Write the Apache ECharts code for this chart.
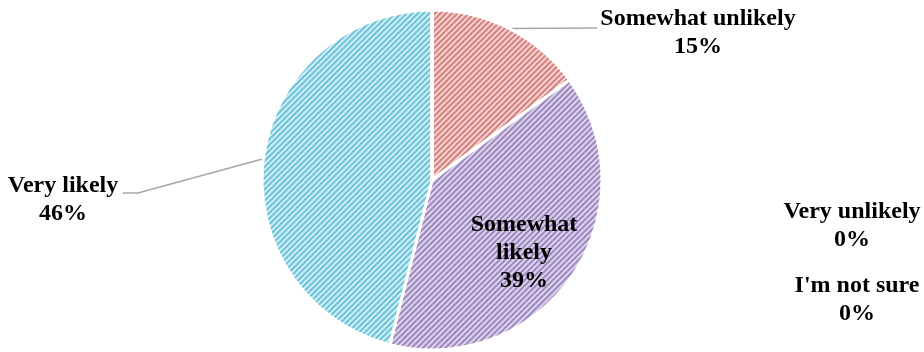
<!DOCTYPE html>
<html>
<head>
<meta charset="utf-8">
<script src="https://cdn.jsdelivr.net/npm/echarts@6/dist/echarts.min.js"></script>
<style>
  html, body { margin: 0; padding: 0; background: #fff; }
  #chart { width: 924px; height: 352px; }
</style>
</head>
<body>
<div id="chart"></div>
<script>
// survey answers, clockwise from 12 o'clock
const categories = ['Very unlikely', 'Somewhat unlikely', 'Somewhat likely', 'Very likely', "I'm not sure"];
const shares = [0, 15, 39, 46, 0];

// light fill under the hatch, and the hatch colour
const fills = ['#dce6f2', '#f4d3d2', '#ddd4ea', '#cfeef6', '#fde9d9'];
const hatches = ['#4f81bd', '#d5807e', '#9c88c0', '#6cc3d9', '#f79646'];

// where Excel put the data labels (centre of each text block)
const labelSpots = {
  'Very unlikely': [852, 226],
  'Somewhat unlikely': [698, 33],
  'Somewhat likely': [524, 253],
  'Very likely': [63, 200],
  "I'm not sure": [857, 300]
};
// leader line bends, after the point on the slice edge
const lineBends = {
  'Somewhat unlikely': [[597, 28]],
  'Very likely': [[138, 193], [123, 193]]
};

const chart = echarts.init(document.getElementById('chart'));

const data = categories.map((name, i) => {
  const item = {
    name: name,
    value: shares[i],
    itemStyle: {
      color: fills[i],
      decal: {
        symbol: 'rect',
        symbolSize: 1,
        color: hatches[i],
        dashArrayX: [1, 0],
        dashArrayY: [1.5, 1.5],
        rotation: -Math.PI / 4
      }
    }
  };
  if (!lineBends[name]) {
    item.labelLine = { show: false };
  }
  if (name === 'Somewhat likely') {
    item.label = { position: 'inside' };
  }
  return item;
});

const option = {
  animation: false,
  series: [
    {
      type: 'pie',
      center: [432, 180],
      radius: 170,
      startAngle: 90,
      clockwise: true,
      silent: true,
      avoidLabelOverlap: false,
      percentPrecision: 0,
      itemStyle: {
        borderColor: '#ffffff',
        borderWidth: 3
      },
      label: {
        show: true,
        formatter: (p) => {
          const name = p.name === 'Somewhat likely' ? 'Somewhat\nlikely' : p.name;
          return name + '\n' + p.percent + '%';
        },
        fontFamily: "'Liberation Serif', serif",
        fontWeight: 'bold',
        fontSize: 24,
        lineHeight: 28,
        color: '#000000',
        align: 'center'
      },
      labelLine: {
        show: true,
        length: 5,
        length2: 60,
        lineStyle: { color: '#a6a6a6', width: 1.5 }
      },
      labelLayout: (params) => {
        const name = categories[params.dataIndex];
        const spot = labelSpots[name];
        const out = { x: spot[0], y: spot[1], align: 'center', verticalAlign: 'middle' };
        const bends = lineBends[name];
        if (bends && params.labelLinePoints) {
          out.labelLinePoints = [params.labelLinePoints[0]].concat(bends);
        }
        return out;
      },
      data: data
    }
  ]
};

chart.setOption(option);

window.addEventListener('resize', () => chart.resize());
</script>
</body>
</html>
